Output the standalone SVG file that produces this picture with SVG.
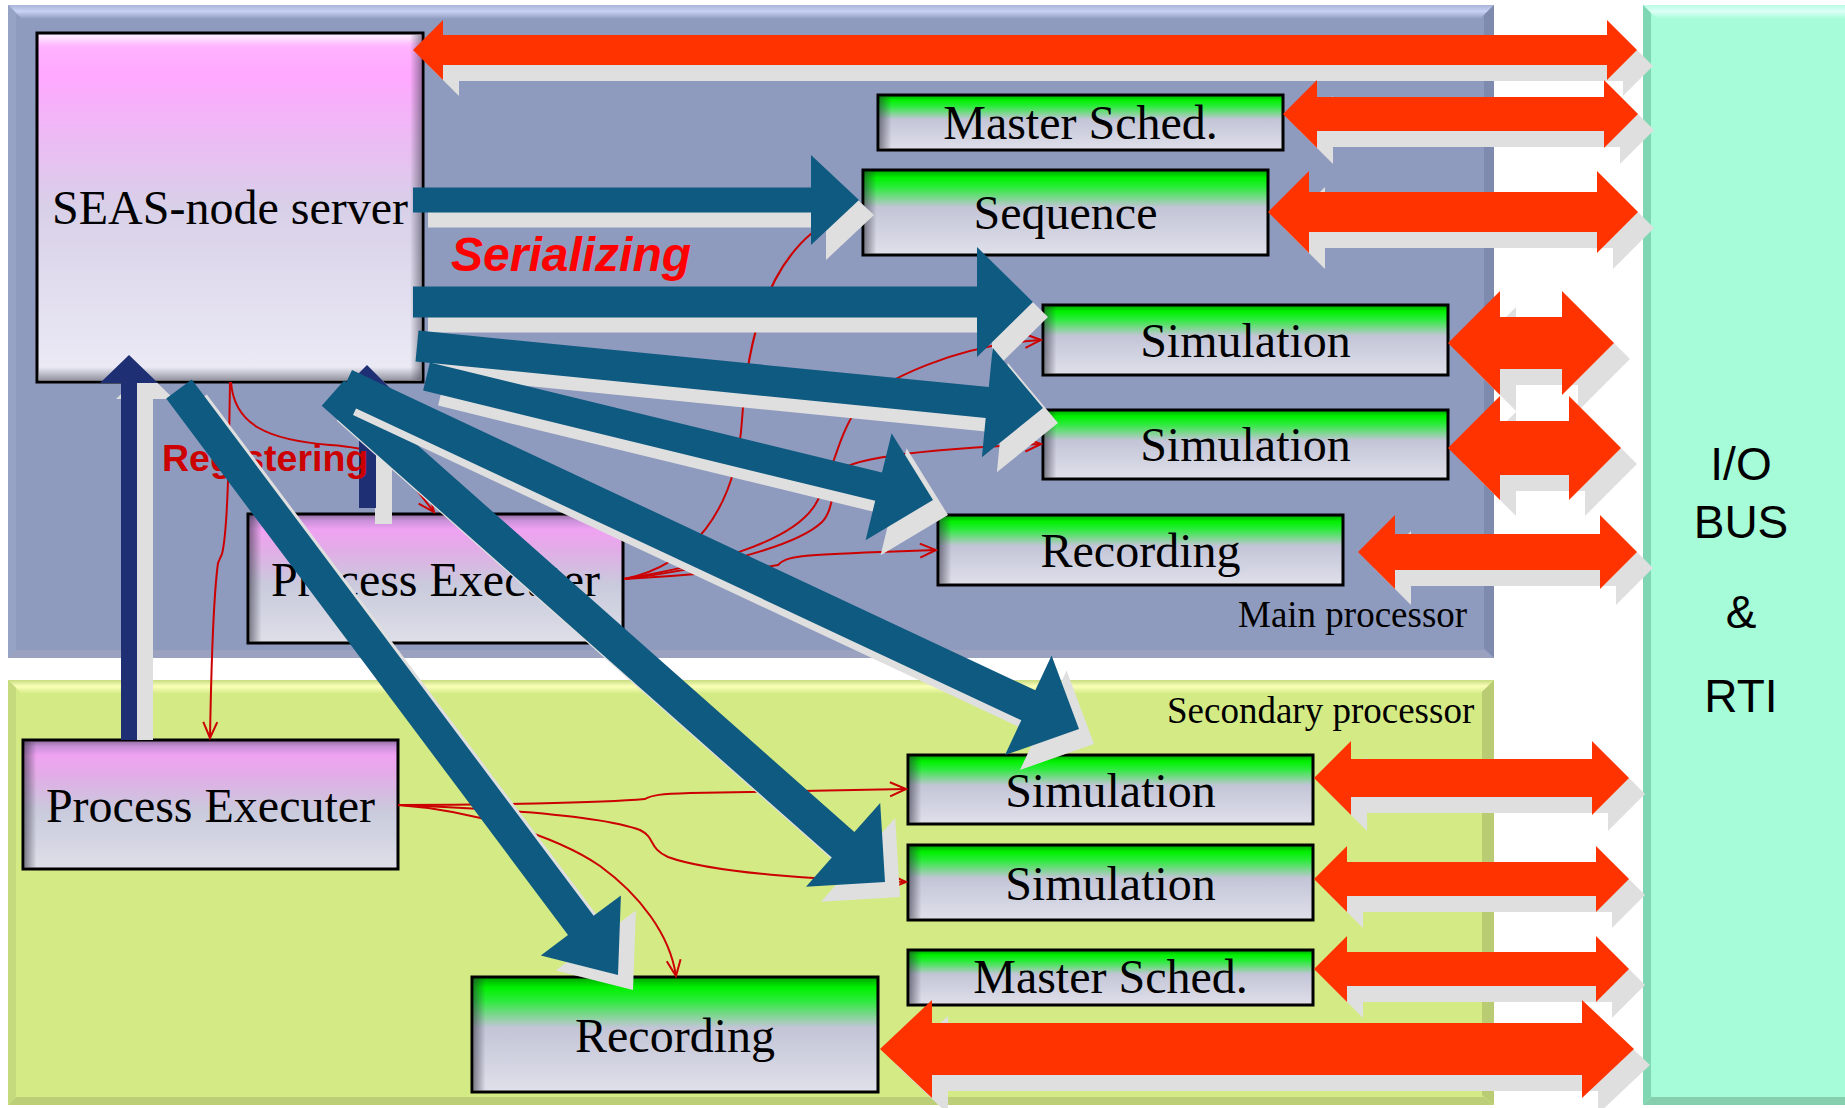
<svg xmlns="http://www.w3.org/2000/svg" width="1845" height="1108" viewBox="0 0 1845 1108">
  <style>
    .nt { font-family: "Liberation Serif", "Times New Roman", serif; font-size: 48px; text-anchor: middle; fill: #000; }
    .pl { font-family: "Liberation Serif", "Times New Roman", serif; font-size: 37px; fill: #000; }
    .bus { font-family: "Liberation Sans", Arial, sans-serif; font-size: 46px; text-anchor: middle; fill: #000; }
    .frame { fill: none; stroke: #000; stroke-width: 3; }
    .io { fill: #ff3300; }
    .sh { fill: #dfdfdf; }
    .flow { fill: #0f5a80; }
    .ctl { fill: #1f2f74; }
    .link { fill: none; stroke: #cc0000; stroke-width: 2; marker-end: url(#open); }
    .tag-reg { font-family: "Liberation Sans", Arial, sans-serif; font-weight: bold; font-size: 37.5px; fill: #cc0000; }
    .tag-ser { font-family: "Liberation Sans", Arial, sans-serif; font-weight: bold; font-style: italic; font-size: 48px; fill: #ff0000; }
  </style>
  <defs>
    <linearGradient id="gSeas" x1="0" y1="0" x2="0" y2="1">
      <stop offset="0" stop-color="#f6d8ff"/>
      <stop offset="0.03" stop-color="#ffb4ff"/>
      <stop offset="0.12" stop-color="#ffa8ff"/>
      <stop offset="0.5" stop-color="#d8d0e8"/>
      <stop offset="1" stop-color="#ececf6"/>
    </linearGradient>
    <linearGradient id="gPink" x1="0" y1="0" x2="0" y2="1">
      <stop offset="0" stop-color="#8c6a98"/>
      <stop offset="0.05" stop-color="#c890d8"/>
      <stop offset="0.12" stop-color="#f0a2f2"/>
      <stop offset="0.25" stop-color="#e4aae8"/>
      <stop offset="0.55" stop-color="#c9cadc"/>
      <stop offset="1" stop-color="#dedfe8"/>
    </linearGradient>
    <linearGradient id="gGreen" x1="0" y1="0" x2="0" y2="1">
      <stop offset="0" stop-color="#00a000"/>
      <stop offset="0.09" stop-color="#00f000"/>
      <stop offset="0.2" stop-color="#28ec38"/>
      <stop offset="0.44" stop-color="#c3c5d7"/>
      <stop offset="1" stop-color="#e0e0ea"/>
    </linearGradient>
    <linearGradient id="shadeLeft" x1="0" y1="0" x2="1" y2="0">
      <stop offset="0" stop-color="#303040" stop-opacity="0.55"/>
      <stop offset="1" stop-color="#303040" stop-opacity="0"/>
    </linearGradient>
    <linearGradient id="shadeRight" x1="0" y1="0" x2="1" y2="0">
      <stop offset="0" stop-color="#404050" stop-opacity="0"/>
      <stop offset="1" stop-color="#404050" stop-opacity="0.5"/>
    </linearGradient>
    <linearGradient id="shadeBottom" x1="0" y1="0" x2="0" y2="1">
      <stop offset="0" stop-color="#404050" stop-opacity="0"/>
      <stop offset="1" stop-color="#404050" stop-opacity="0.5"/>
    </linearGradient>
    <linearGradient id="glossTop" x1="0" y1="0" x2="0" y2="1">
      <stop offset="0" stop-color="#ffffff" stop-opacity="0.6"/>
      <stop offset="1" stop-color="#ffffff" stop-opacity="0"/>
    </linearGradient>
    <linearGradient id="bevMainTop" x1="0" y1="0" x2="0" y2="1">
      <stop offset="0" stop-color="#a9b4d8"/>
      <stop offset="0.45" stop-color="#c8d2f4"/>
      <stop offset="1" stop-color="#8f9bbe"/>
    </linearGradient>
    <linearGradient id="bevSecTop" x1="0" y1="0" x2="0" y2="1">
      <stop offset="0" stop-color="#c8dc80"/>
      <stop offset="0.45" stop-color="#faffb8"/>
      <stop offset="1" stop-color="#d3ea85"/>
    </linearGradient>
    <linearGradient id="bevIoTop" x1="0" y1="0" x2="0" y2="1">
      <stop offset="0" stop-color="#b8fce6"/>
      <stop offset="0.45" stop-color="#dcfff6"/>
      <stop offset="1" stop-color="#a6fcd8"/>
    </linearGradient>
    <marker id="open" markerUnits="userSpaceOnUse" viewBox="0 0 18 16" refX="17" refY="8" markerWidth="18" markerHeight="16" orient="auto" overflow="visible">
      <path d="M1,1 L17,8 L1,15" fill="none" stroke="#cc0000" stroke-width="2"/>
    </marker>

    <!-- double-headed I/O arrows -->
    <polygon id="r1" points="413,50 443,20 443,35 1607,35 1607,20 1637,50 1607,80 1607,65 443,65 443,80"/>
    <polygon id="r2" points="1283,114 1317,80 1317,97 1604,97 1604,80 1638,114 1604,148 1604,131 1317,131 1317,148"/>
    <polygon id="r3" points="1268,212 1309,171 1309,192 1597,192 1597,171 1638,212 1597,253 1597,232 1309,232 1309,253"/>
    <polygon id="r4" points="1448,343 1500,291 1500,317 1562,317 1562,291 1614,343 1562,395 1562,369 1500,369 1500,395"/>
    <polygon id="r5" points="1448,448 1500,396 1500,421 1569,421 1569,396 1621,448 1569,500 1569,475 1500,475 1500,500"/>
    <polygon id="r6" points="1358,552 1395,515 1395,534 1600,534 1600,515 1637,552 1600,589 1600,570 1395,570 1395,589"/>
    <polygon id="r7" points="1314,778 1351,741 1351,759 1592,759 1592,741 1629,778 1592,815 1592,797 1351,797 1351,815"/>
    <polygon id="r8" points="1314,879 1347,846 1347,862 1596,862 1596,846 1629,879 1596,912 1596,896 1347,896 1347,912"/>
    <polygon id="r9" points="1314,969 1347,936 1347,952 1596,952 1596,936 1629,969 1596,1002 1596,986 1347,986 1347,1002"/>
    <polygon id="r10" points="880,1049 932,1000 932,1023 1582,1023 1582,1000 1634,1049 1582,1098 1582,1075 932,1075 932,1098"/>

    <!-- serialization flow arrows -->
    <polygon id="f1" points="413,187.5 811,187.5 811,155 859,200 811,245 811,212.5 413,212.5"/>
    <polygon id="f2" points="413,286.5 977,286.5 977,247 1033,302 977,357 977,317.5 413,317.5"/>
    <polygon id="f3" points="418.5,330.6 988.8,387.1 992.7,347.8 1043,408 981.9,457.2 985.7,417.9 415.5,361.4"/>
    <polygon id="f4" points="429.9,362.4 882,472.6 891.6,433.3 933,500 865.6,540.2 875.2,500.8 423.1,390.6"/>
    <polygon id="f5" points="352,370.1 1035.3,690.3 1051.6,655.4 1079,729 1005,755 1021.3,720.2 338,399.9"/>
    <polygon id="f6" points="344.3,380.3 854.4,832.1 880.2,803 885,882 806,886.8 831.8,857.6 321.7,405.7"/>
    <polygon id="f7" points="191.8,379.4 593.6,915.8 620.9,895.4 618,975 540.8,955.4 568,935 166.2,398.6"/>

    <!-- registration arrow from the upper executer -->
    <polygon id="n2" points="359,508 359,394 338,394 367,365 396,394 376,394 376,508"/>
  </defs>

  <rect x="0" y="0" width="1845" height="1108" fill="#ffffff"/>

  <!-- processor panels -->
  <g id="panel-main">
    <rect x="8" y="5" width="1486" height="653" fill="#8f9bbe"/>
    <polygon points="8,5 1494,5 1480,19 22,19" fill="url(#bevMainTop)"/>
    <polygon points="1494,5 1494,658 1484,648 1484,15" fill="#7e8aae"/>
    <polygon points="8,658 1494,658 1484,650 16,650" fill="#9aa2c0"/>
    <polygon points="8,5 16,13 16,650 8,658" fill="#97a3c5"/>
    <text x="1238" y="627" class="pl">Main processor</text>
  </g>
  <g id="panel-secondary">
    <rect x="8" y="680" width="1486" height="425" fill="#d3ea85"/>
    <polygon points="8,680 1494,680 1480,694 22,694" fill="url(#bevSecTop)"/>
    <polygon points="1494,680 1494,1105 1482,1095 1482,692" fill="#b9cc74"/>
    <polygon points="8,1105 1494,1105 1484,1097 16,1097" fill="#bccf78"/>
    <polygon points="8,680 16,688 16,1097 8,1105" fill="#c5da7c"/>
    <text x="1167" y="723" class="pl">Secondary processor</text>
  </g>
  <g id="panel-io">
    <rect x="1643" y="5" width="202" height="1100" fill="#a6fcd8"/>
    <polygon points="1643,5 1845,5 1845,19 1657,19" fill="url(#bevIoTop)"/>
    <polygon points="1643,5 1651,13 1651,1097 1643,1105" fill="#7fd6b2"/>
    <polygon points="1643,1105 1845,1105 1845,1097 1651,1097" fill="#86cfae"/>
    <text x="1741" y="480" class="bus">I/O</text>
    <text x="1741" y="538" class="bus">BUS</text>
    <text x="1741" y="628" class="bus">&amp;</text>
    <text x="1741" y="712" class="bus">RTI</text>
  </g>

  <!-- nodes -->
  <g id="node-seas-server">
    <rect x="37" y="33" width="386" height="349" fill="url(#gSeas)"/>
    <rect x="39" y="35" width="382" height="12" fill="url(#glossTop)"/>
    <rect x="410" y="35" width="11" height="345" fill="url(#shadeRight)"/>
    <rect x="39" y="367" width="382" height="13" fill="url(#shadeBottom)"/>
    <rect x="37" y="33" width="386" height="349" class="frame"/>
    <text x="230" y="224" class="nt">SEAS-node server</text>
  </g>

  <g id="node-master-sched-main">
    <rect x="878" y="95" width="405" height="55" fill="url(#gGreen)"/>
    <rect x="879.5" y="96.5" width="12" height="52" fill="url(#shadeLeft)"/>
    <rect x="878" y="95" width="405" height="55" class="frame"/>
    <text x="1080.5" y="139" class="nt">Master Sched.</text>
  </g>
  <g id="node-sequence">
    <rect x="863" y="170" width="405" height="85" fill="url(#gGreen)"/>
    <rect x="864.5" y="171.5" width="12" height="82" fill="url(#shadeLeft)"/>
    <rect x="863" y="170" width="405" height="85" class="frame"/>
    <text x="1065.5" y="229" class="nt">Sequence</text>
  </g>
  <g id="node-simulation-main-1">
    <rect x="1043" y="305" width="405" height="70" fill="url(#gGreen)"/>
    <rect x="1044.5" y="306.5" width="12" height="67" fill="url(#shadeLeft)"/>
    <rect x="1043" y="305" width="405" height="70" class="frame"/>
    <text x="1245.5" y="357" class="nt">Simulation</text>
  </g>
  <g id="node-simulation-main-2">
    <rect x="1043" y="410" width="405" height="69" fill="url(#gGreen)"/>
    <rect x="1044.5" y="411.5" width="12" height="66" fill="url(#shadeLeft)"/>
    <rect x="1043" y="410" width="405" height="69" class="frame"/>
    <text x="1245.5" y="461" class="nt">Simulation</text>
  </g>
  <g id="node-recording-main">
    <rect x="938" y="515" width="405" height="70" fill="url(#gGreen)"/>
    <rect x="939.5" y="516.5" width="12" height="67" fill="url(#shadeLeft)"/>
    <rect x="938" y="515" width="405" height="70" class="frame"/>
    <text x="1140.5" y="567" class="nt">Recording</text>
  </g>
  <g id="node-process-executer-main">
    <rect x="248" y="514" width="375" height="129" fill="url(#gPink)"/>
    <rect x="249.5" y="515.5" width="12" height="126" fill="url(#shadeLeft)"/>
    <rect x="248" y="514" width="375" height="129" class="frame"/>
    <text x="435.5" y="596" class="nt">Process Executer</text>
  </g>

  <g id="node-process-executer-secondary">
    <rect x="23" y="740" width="375" height="129" fill="url(#gPink)"/>
    <rect x="24.5" y="741.5" width="12" height="126" fill="url(#shadeLeft)"/>
    <rect x="23" y="740" width="375" height="129" class="frame"/>
    <text x="210.5" y="822" class="nt">Process Executer</text>
  </g>
  <g id="node-simulation-secondary-1">
    <rect x="908" y="755" width="405" height="69" fill="url(#gGreen)"/>
    <rect x="909.5" y="756.5" width="12" height="66" fill="url(#shadeLeft)"/>
    <rect x="908" y="755" width="405" height="69" class="frame"/>
    <text x="1110.5" y="807" class="nt">Simulation</text>
  </g>
  <g id="node-simulation-secondary-2">
    <rect x="908" y="845" width="405" height="75" fill="url(#gGreen)"/>
    <rect x="909.5" y="846.5" width="12" height="72" fill="url(#shadeLeft)"/>
    <rect x="908" y="845" width="405" height="75" class="frame"/>
    <text x="1110.5" y="900" class="nt">Simulation</text>
  </g>
  <g id="node-master-sched-secondary">
    <rect x="908" y="950" width="405" height="55" fill="url(#gGreen)"/>
    <rect x="909.5" y="951.5" width="12" height="52" fill="url(#shadeLeft)"/>
    <rect x="908" y="950" width="405" height="55" class="frame"/>
    <text x="1110.5" y="993" class="nt">Master Sched.</text>
  </g>
  <g id="node-recording-secondary">
    <rect x="472" y="977" width="406" height="115" fill="url(#gGreen)"/>
    <rect x="473.5" y="978.5" width="12" height="112" fill="url(#shadeLeft)"/>
    <rect x="472" y="977" width="406" height="115" class="frame"/>
    <text x="675" y="1052" class="nt">Recording</text>
  </g>

  <!-- connectors -->
  <g id="connectors">
    <!-- control links (thin red) -->
    <path class="link" d="M624,579 C690,566 736,512 742,420 C748,330 770,268 812,233 C830,220 845,214 861,212"/>
    <path class="link" d="M624,579 C700,566 790,545 815,505 C832,478 836,440 856,410 C880,378 960,345 1041,340"/>
    <path class="link" d="M624,579 C700,570 795,548 822,522 C836,508 830,478 848,466 C880,452 990,446 1041,444"/>
    <path class="link" d="M624,579 C680,576 750,570 778,565 C786,556 800,555 880,552 L936,550"/>
    <path class="link" d="M230,382 C229,450 228,530 222,554 L218,563 C213,600 211,680 210,738"/>
    <path class="link" d="M231,382 C234,425 268,440 330,445 C375,448 392,458 405,475 L434,512"/>
    <path class="link" d="M398,805 C480,805 600,803 645,799 C652,795 660,794 690,793 L906,789"/>
    <path class="link" d="M398,805 C480,808 600,815 640,830 C656,838 648,848 668,857 C712,873 820,880 906,882"/>
    <path class="link" d="M398,805 C470,810 555,835 600,866 C640,895 670,935 676,976"/>

    <!-- I/O bus exchanges -->
    <use href="#r1" class="sh" transform="translate(16,16)"/><use href="#r1" class="io"/>
    <use href="#r2" class="sh" transform="translate(16,16)"/><use href="#r2" class="io"/>
    <use href="#r3" class="sh" transform="translate(16,16)"/><use href="#r3" class="io"/>
    <use href="#r4" class="sh" transform="translate(16,16)"/><use href="#r4" class="io"/>
    <use href="#r5" class="sh" transform="translate(16,16)"/><use href="#r5" class="io"/>
    <use href="#r6" class="sh" transform="translate(16,16)"/><use href="#r6" class="io"/>
    <use href="#r7" class="sh" transform="translate(16,16)"/><use href="#r7" class="io"/>
    <use href="#r8" class="sh" transform="translate(16,16)"/><use href="#r8" class="io"/>
    <use href="#r9" class="sh" transform="translate(16,16)"/><use href="#r9" class="io"/>
    <use href="#r10" class="sh" transform="translate(16,16)"/><use href="#r10" class="io"/>

    <!-- registration arrows -->
    <polygon class="sh" points="137,740 137,399 116,399 145,371 174,399 153,399 153,740"/>
    <polygon class="ctl" points="121,740 121,383 100,383 129,355 158,383 137,383 137,740"/>
    <use href="#n2" class="sh" transform="translate(16,16)"/><use href="#n2" class="ctl"/>
    <text x="162" y="471" class="tag-reg">Registering</text>

    <!-- serialization arrows -->
    <use href="#f1" class="sh" transform="translate(15,15)"/><use href="#f1" class="flow"/>
    <use href="#f2" class="sh" transform="translate(15,15)"/><use href="#f2" class="flow"/>
    <use href="#f3" class="sh" transform="translate(15,15)"/><use href="#f3" class="flow"/>
    <use href="#f4" class="sh" transform="translate(15,15)"/><use href="#f4" class="flow"/>
    <use href="#f6" class="sh" transform="translate(15,15)"/><use href="#f6" class="flow"/>
    <use href="#f5" class="sh" transform="translate(15,15)"/><use href="#f5" class="flow"/>
    <use href="#f7" class="sh" transform="translate(15,15)"/><use href="#f7" class="flow"/>
    <text x="451" y="271" class="tag-ser">Serializing</text>
  </g>
</svg>
